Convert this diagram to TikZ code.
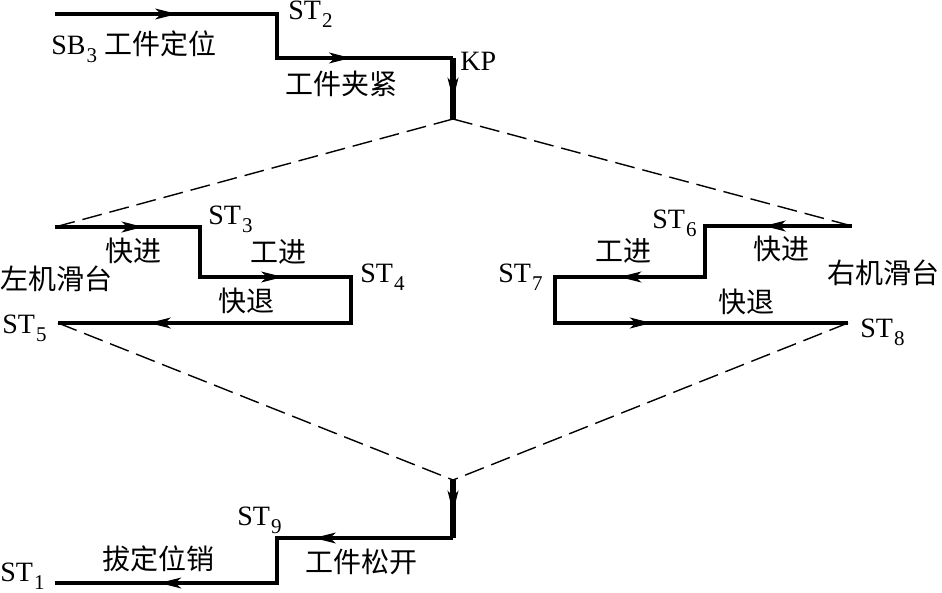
\documentclass[tikz,border=0pt]{standalone}
\usepackage{fontspec}
\setmainfont{Liberation Serif}
\newfontfamily\cjk{Noto Sans CJK SC}
\usetikzlibrary{arrows.meta,%
                decorations.markings}
\newcommand{\lowsub}[1]{\kern0.5pt\raisebox{-4pt}{\fontsize{10.5pt}{11pt}\selectfont #1}}

\begin{document}
\begin{tikzpicture}[x=0.5pt,y=-0.5pt]
  \tikzstyle{flow}=[line width=2pt,line join=miter]
  \tikzstyle{guide}=[line width=0.7pt,dash pattern=on 10pt off 4pt]
  \tikzstyle{lbl}=[inner sep=0pt,anchor=base west,font=\fontsize{14pt}{16pt}\selectfont]
  \tikzset{arr/.style={postaction={decorate,decoration={markings,%
    mark=at position #1 with {\arrow[line width=0.6pt]{Stealth[length=11pt,width=5.5pt,inset=3pt]}}}}}}
  \useasboundingbox (0,0) rectangle (942,593);
  % clamping
  \coordinate (t0) at (55,14);
  \coordinate (t1) at (277,14);
  \coordinate (t2) at (277,58);
  \coordinate (t3) at (453,58);
  \coordinate (top) at (453,119);
  % left slide
  \coordinate (l0) at (55,227);
  \coordinate (l1) at (200,227);
  \coordinate (l2) at (200,277);
  \coordinate (l3) at (351,277);
  \coordinate (l4) at (351,323);
  \coordinate (l5) at (58,323);
  % right slide
  \coordinate (r0) at (852,226);
  \coordinate (r1) at (705,226);
  \coordinate (r2) at (705,277);
  \coordinate (r3) at (555,277);
  \coordinate (r4) at (555,323);
  \coordinate (r5) at (848,323);
  % release
  \coordinate (bot) at (453,480);
  \coordinate (b1) at (453,538);
  \coordinate (b2) at (277,538);
  \coordinate (b3) at (277,583);
  \coordinate (b4) at (55,583);

  \draw[flow] (t0) -- (t1) -- (t2) -- (t3);
  \draw[flow] (l0) -- (l1) -- (l2) -- (l3) -- (l4) -- (l5);
  \draw[flow] (r0) -- (r1) -- (r2) -- (r3) -- (r4) -- (r5);
  \draw[flow] (b1) -- (b2) -- (b3) -- (b4);
  \draw[flow,line width=2.6pt] (t3) -- (top);
  \draw[flow,line width=2.6pt] (bot) -- (b1);
  \path[arr=0.55] (t0) -- (t1);
  \path[arr=0.42] (t2) -- (t3);
  \path[arr=0.68] (t3) -- (top);
  \path[arr=0.61] (l0) -- (l1);
  \path[arr=0.55] (l2) -- (l3);
  \path[arr=0.69] (l4) -- (l5);
  \path[arr=0.60] (r0) -- (r1);
  \path[arr=0.57] (r2) -- (r3);
  \path[arr=0.33] (r4) -- (r5);
  \path[arr=0.56] (bot) -- (b1);
  \path[arr=0.79] (b1) -- (b2);
  \path[arr=0.53] (b3) -- (b4);

  \draw[guide] (top) -- (l0);
  \draw[guide] (top) -- (r0);
  \draw[guide] (l5) -- (bot);
  \draw[guide] (r5) -- (bot);

  \node[lbl] (st2) at (288,20) {ST\lowsub{2}};
  \node[lbl] (sb3) at (51,55) {SB\lowsub{3} {\cjk 工件定位}};
  \node[lbl] (kp) at (460,71) {KP};
  \node[lbl] (clamp) at (285,95) {\cjk 工件夹紧};
  \node[lbl] (st3) at (208,225) {ST\lowsub{3}};
  \node[lbl] (lfast) at (105,262) {\cjk 快进};
  \node[lbl] (lwork) at (250,263) {\cjk 工进};
  \node[lbl] (st4) at (360,283) {ST\lowsub{4}};
  \node[lbl] (lslide) at (0,290) {\cjk 左机滑台};
  \node[lbl] (lback) at (218,312) {\cjk 快退};
  \node[lbl] (st5) at (2,333) {ST\lowsub{5}};
  \node[lbl] (st6) at (652,229) {ST\lowsub{6}};
  \node[lbl] (rfast) at (753,260) {\cjk 快进};
  \node[lbl] (rwork) at (595,262) {\cjk 工进};
  \node[lbl] (st7) at (498,283) {ST\lowsub{7}};
  \node[lbl] (rslide) at (827,284) {\cjk 右机滑台};
  \node[lbl] (rback) at (718,313) {\cjk 快退};
  \node[lbl] (st8) at (860,337) {ST\lowsub{8}};
  \node[lbl] (st9) at (237,525) {ST\lowsub{9}};
  \node[lbl] (release) at (305,572) {\cjk 工件松开};
  \node[lbl] (pin) at (102,569) {\cjk 拔定位销};
  \node[lbl] (st1) at (0,581) {ST\lowsub{1}};
\end{tikzpicture}
\end{document}
